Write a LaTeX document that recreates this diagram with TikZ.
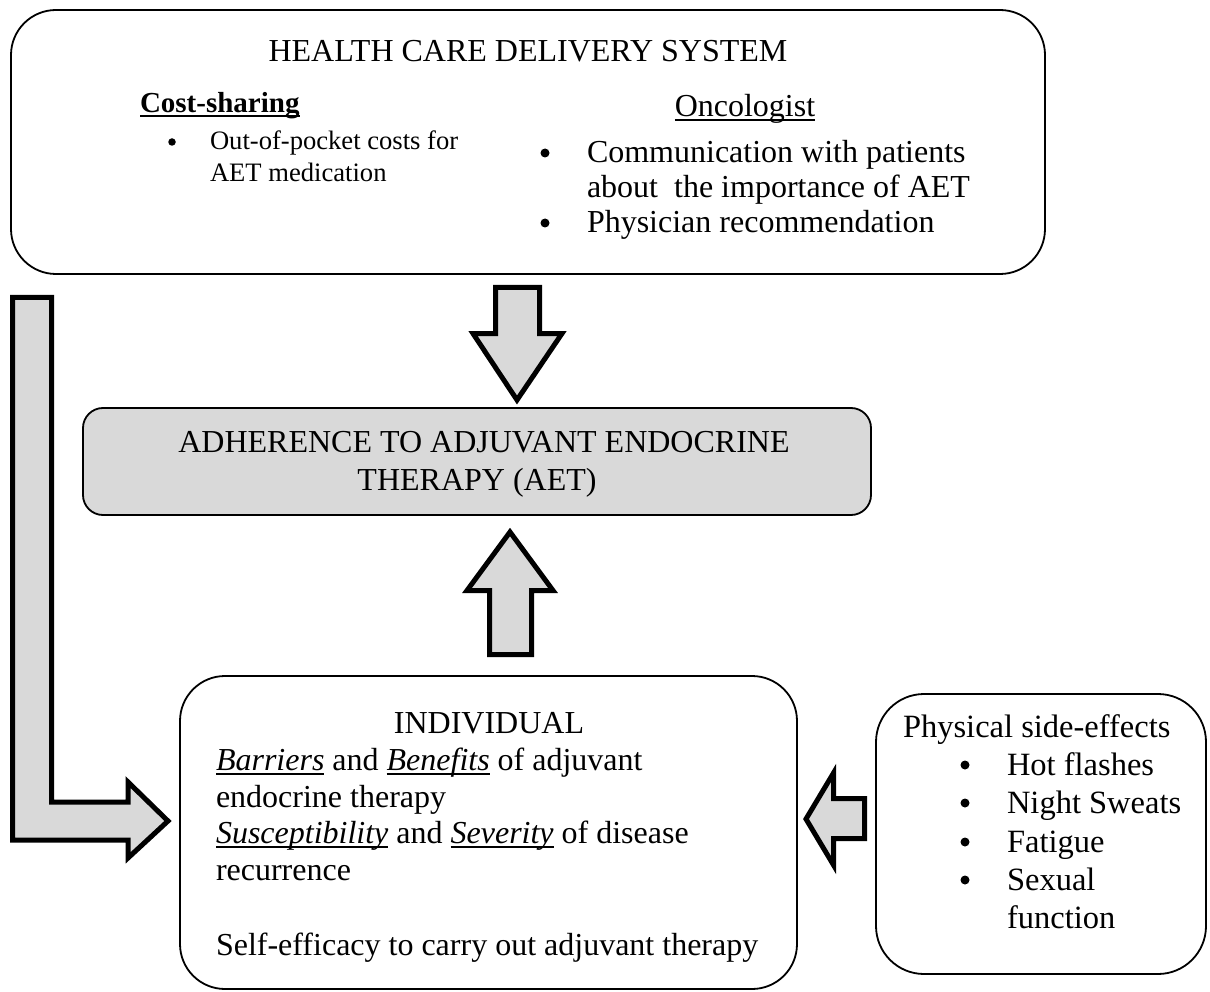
\documentclass[tikz,border=0pt]{standalone}
\usepackage{fontspec}
\setmainfont{Liberation Serif}
\definecolor{boxgray}{HTML}{D9D9D9}
\newcommand\myul[1]{\setbox0\hbox{#1}\rlap{\rule[-4.5pt]{\wd0}{2pt}}\box0\relax}
\begin{document}
\begin{tikzpicture}[x=1pt,y=-1pt,
  frame/.style={draw=black, line width=1.8pt, inner sep=0pt, outer sep=0pt},
  txt/.style={inner sep=0pt, outer sep=0pt, font=\fontsize{32}{37}\selectfont},
  ptxt/.style={inner sep=0pt, outer sep=0pt, font=\fontsize{32.5}{38}\selectfont},
  smalltxt/.style={inner sep=0pt, outer sep=0pt, font=\fontsize{26.6}{32}\selectfont},
  dot/.style={circle, fill=black, inner sep=0pt, outer sep=0pt, minimum size=#1},
  blockarrow/.style={draw=black, fill=boxgray, line width=5pt, line join=miter, miter limit=10}
]
\useasboundingbox (0,0) rectangle (1210,992);

% ---------- boxes ----------
\node[frame, rounded corners=45pt, minimum width=1034pt, minimum height=264pt] (hcds) at (528,142) {};
\node[frame, fill=boxgray, rounded corners=20pt, minimum width=788pt, minimum height=107pt] (aet) at (477,461.5) {};
\node[frame, rounded corners=45pt, minimum width=617pt, minimum height=313pt] (indiv) at (488.5,832.5) {};
\node[frame, rounded corners=48pt, minimum width=330pt, minimum height=280pt] (phys) at (1041,834) {};

% ---------- top box text ----------
\node[txt, anchor=base] (title) at (528,62) {HEALTH CARE DELIVERY SYSTEM};
\node[txt, anchor=base west, font=\fontsize{29}{32}\selectfont\bfseries] (cost) at (140,113) {\myul{Cost-sharing}};
\node[dot=7.5pt] (cb1) at (172,142) {};
\node[smalltxt, anchor=base west] (ct1) at (210,150) {Out-of-pocket costs for};
\node[smalltxt, anchor=base west] (ct2) at (210,182) {AET medication};

\node[txt, anchor=base] (onc) at (745,117) {\myul{Oncologist}};
\node[dot=9pt] (ob1) at (545,153) {};
\node[txt, anchor=base west] (ot1) at (587,163) {Communication with patients};
\node[txt, anchor=base west] (ot2) at (587,198) {about\ \ the importance of AET};
\node[dot=9pt] (ob2) at (545,223) {};
\node[txt, anchor=base west] (ot3) at (587,233) {Physician recommendation};

% ---------- adherence text ----------
\node[txt, anchor=base] (a1) at (484,452) {ADHERENCE TO ADJUVANT ENDOCRINE};
\node[txt, anchor=base] (a2) at (477,490) {THERAPY (AET)};

% ---------- individual text ----------
\node[txt, anchor=base] (ind) at (489,733) {INDIVIDUAL};
\node[txt, anchor=base west] (i1) at (216,770) {\myul{\textit{Barriers}} and \myul{\textit{Benefits}} of adjuvant};
\node[txt, anchor=base west] (i2) at (216,807) {endocrine therapy};
\node[txt, anchor=base west] (i3) at (216,843) {\myul{\textit{Susceptibility}} and \myul{\textit{Severity}} of disease};
\node[txt, anchor=base west] (i4) at (216,880) {recurrence};
\node[txt, anchor=base west] (i5) at (216,955) {Self-efficacy to carry out adjuvant therapy};

% ---------- physical side-effects text ----------
\node[ptxt, anchor=base west] (p0) at (903,737) {Physical side-effects};
\node[dot=9pt] (pb1) at (965,765) {};
\node[ptxt, anchor=base west] (p1) at (1007,775) {Hot flashes};
\node[dot=9pt] (pb2) at (965,803) {};
\node[ptxt, anchor=base west] (p2) at (1007,813) {Night Sweats};
\node[dot=9pt] (pb3) at (965,842) {};
\node[ptxt, anchor=base west] (p3) at (1007,852) {Fatigue};
\node[dot=9pt] (pb4) at (965,880) {};
\node[ptxt, anchor=base west] (p4) at (1007,890) {Sexual};
\node[ptxt, anchor=base west] (p5) at (1007,928) {function};

% ---------- block arrows ----------
% down: health care system -> adherence
\draw[blockarrow] (495.5,287.5) -- (539.5,287.5) -- (539.5,333.5) -- (562,333.5)
  -- (517,400) -- (473,333.5) -- (495.5,333.5) -- cycle;
% up: individual -> adherence
\draw[blockarrow] (489.5,654.5) -- (531.5,654.5) -- (531.5,590.5) -- (553,590.5)
  -- (510,532) -- (467,590.5) -- (489.5,590.5) -- cycle;
% left: physical side-effects -> individual
\draw[blockarrow] (864.5,798.5) -- (864.5,838.5) -- (833.5,838.5) -- (833.5,865)
  -- (806,819) -- (833.5,773) -- (833.5,798.5) -- cycle;
% L-shaped: health care system -> individual
\draw[blockarrow] (12.5,297.5) -- (51.5,297.5) -- (51.5,802) -- (128,802) -- (128,782)
  -- (168,821) -- (128,858) -- (128,840) -- (12.5,840) -- cycle;
\end{tikzpicture}
\end{document}
